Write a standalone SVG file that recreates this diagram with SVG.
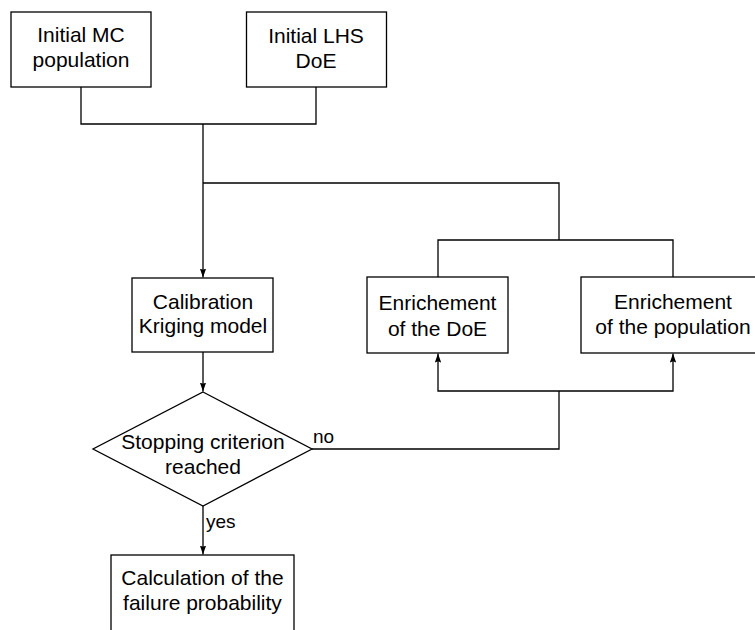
<svg xmlns="http://www.w3.org/2000/svg" width="755" height="630" viewBox="0 0 755 630">
<style>
.box{fill:#fff;stroke:#000;stroke-width:1.3}
.t{font-family:"Liberation Sans",Arial,sans-serif;font-size:21px;fill:#000;text-anchor:middle}
.l{font-family:"Liberation Sans",Arial,sans-serif;font-size:19px;fill:#000}
.c{fill:none;stroke:#000;stroke-width:1.3}
</style>
<defs>
<marker id="ah" viewBox="0 0 10 7" refX="10" refY="3.5" markerWidth="9" markerHeight="6.3" markerUnits="userSpaceOnUse" orient="auto">
<path d="M0,0 L10,3.5 L0,7 L1.5,3.5 Z" fill="#000"/>
</marker>
</defs>
<rect width="755" height="630" fill="#fff"/>
<g id="connectors">
<path class="c" d="M81,87 V124 H316 V87"/>
<path class="c" d="M203,124 V277.5" marker-end="url(#ah)"/>
<path class="c" d="M203,183 H559 V240"/>
<path class="c" d="M438,277 V240 H673 V277"/>
<path class="c" d="M203,352 V391.5" marker-end="url(#ah)"/>
<path class="c" d="M203,506 V554.5" marker-end="url(#ah)"/>
<path class="c" d="M312,449 H559 V391"/>
<path class="c" d="M559,391 H438 V353.5" marker-end="url(#ah)"/>
<path class="c" d="M559,391 H673 V353.5" marker-end="url(#ah)"/>
</g>
<g id="initial-mc">
<rect class="box" x="11" y="12" width="140" height="75"/>
<text class="t" x="81" y="42">Initial MC</text>
<text class="t" x="81" y="67">population</text>
</g>
<g id="initial-lhs">
<rect class="box" x="246.5" y="12" width="140" height="75"/>
<text class="t" x="316" y="43">Initial LHS</text>
<text class="t" x="316" y="68">DoE</text>
</g>
<g id="calibration">
<rect class="box" x="132" y="278" width="141" height="74"/>
<text class="t" x="203" y="309">Calibration</text>
<text class="t" x="203" y="333">Kriging model</text>
</g>
<g id="enrich-doe">
<rect class="box" x="367" y="277" width="141" height="76"/>
<text class="t" x="437.5" y="310">Enrichement</text>
<text class="t" x="437.5" y="336">of the DoE</text>
</g>
<g id="enrich-pop">
<rect class="box" x="581" y="277" width="184" height="76"/>
<text class="t" x="673" y="309">Enrichement</text>
<text class="t" x="673" y="334">of the population</text>
</g>
<g id="stopping">
<polygon class="box" points="203,392 312,449 203,506 93,449"/>
<text class="t" x="203" y="449">Stopping criterion</text>
<text class="t" x="203" y="474">reached</text>
</g>
<g id="calculation">
<rect class="box" x="111" y="555" width="183" height="90"/>
<text class="t" x="202.5" y="585">Calculation of the</text>
<text class="t" x="202.5" y="610">failure probability</text>
</g>
<g id="labels">
<text class="l" x="313" y="443">no</text>
<text class="l" x="206" y="528">yes</text>
</g>
</svg>
